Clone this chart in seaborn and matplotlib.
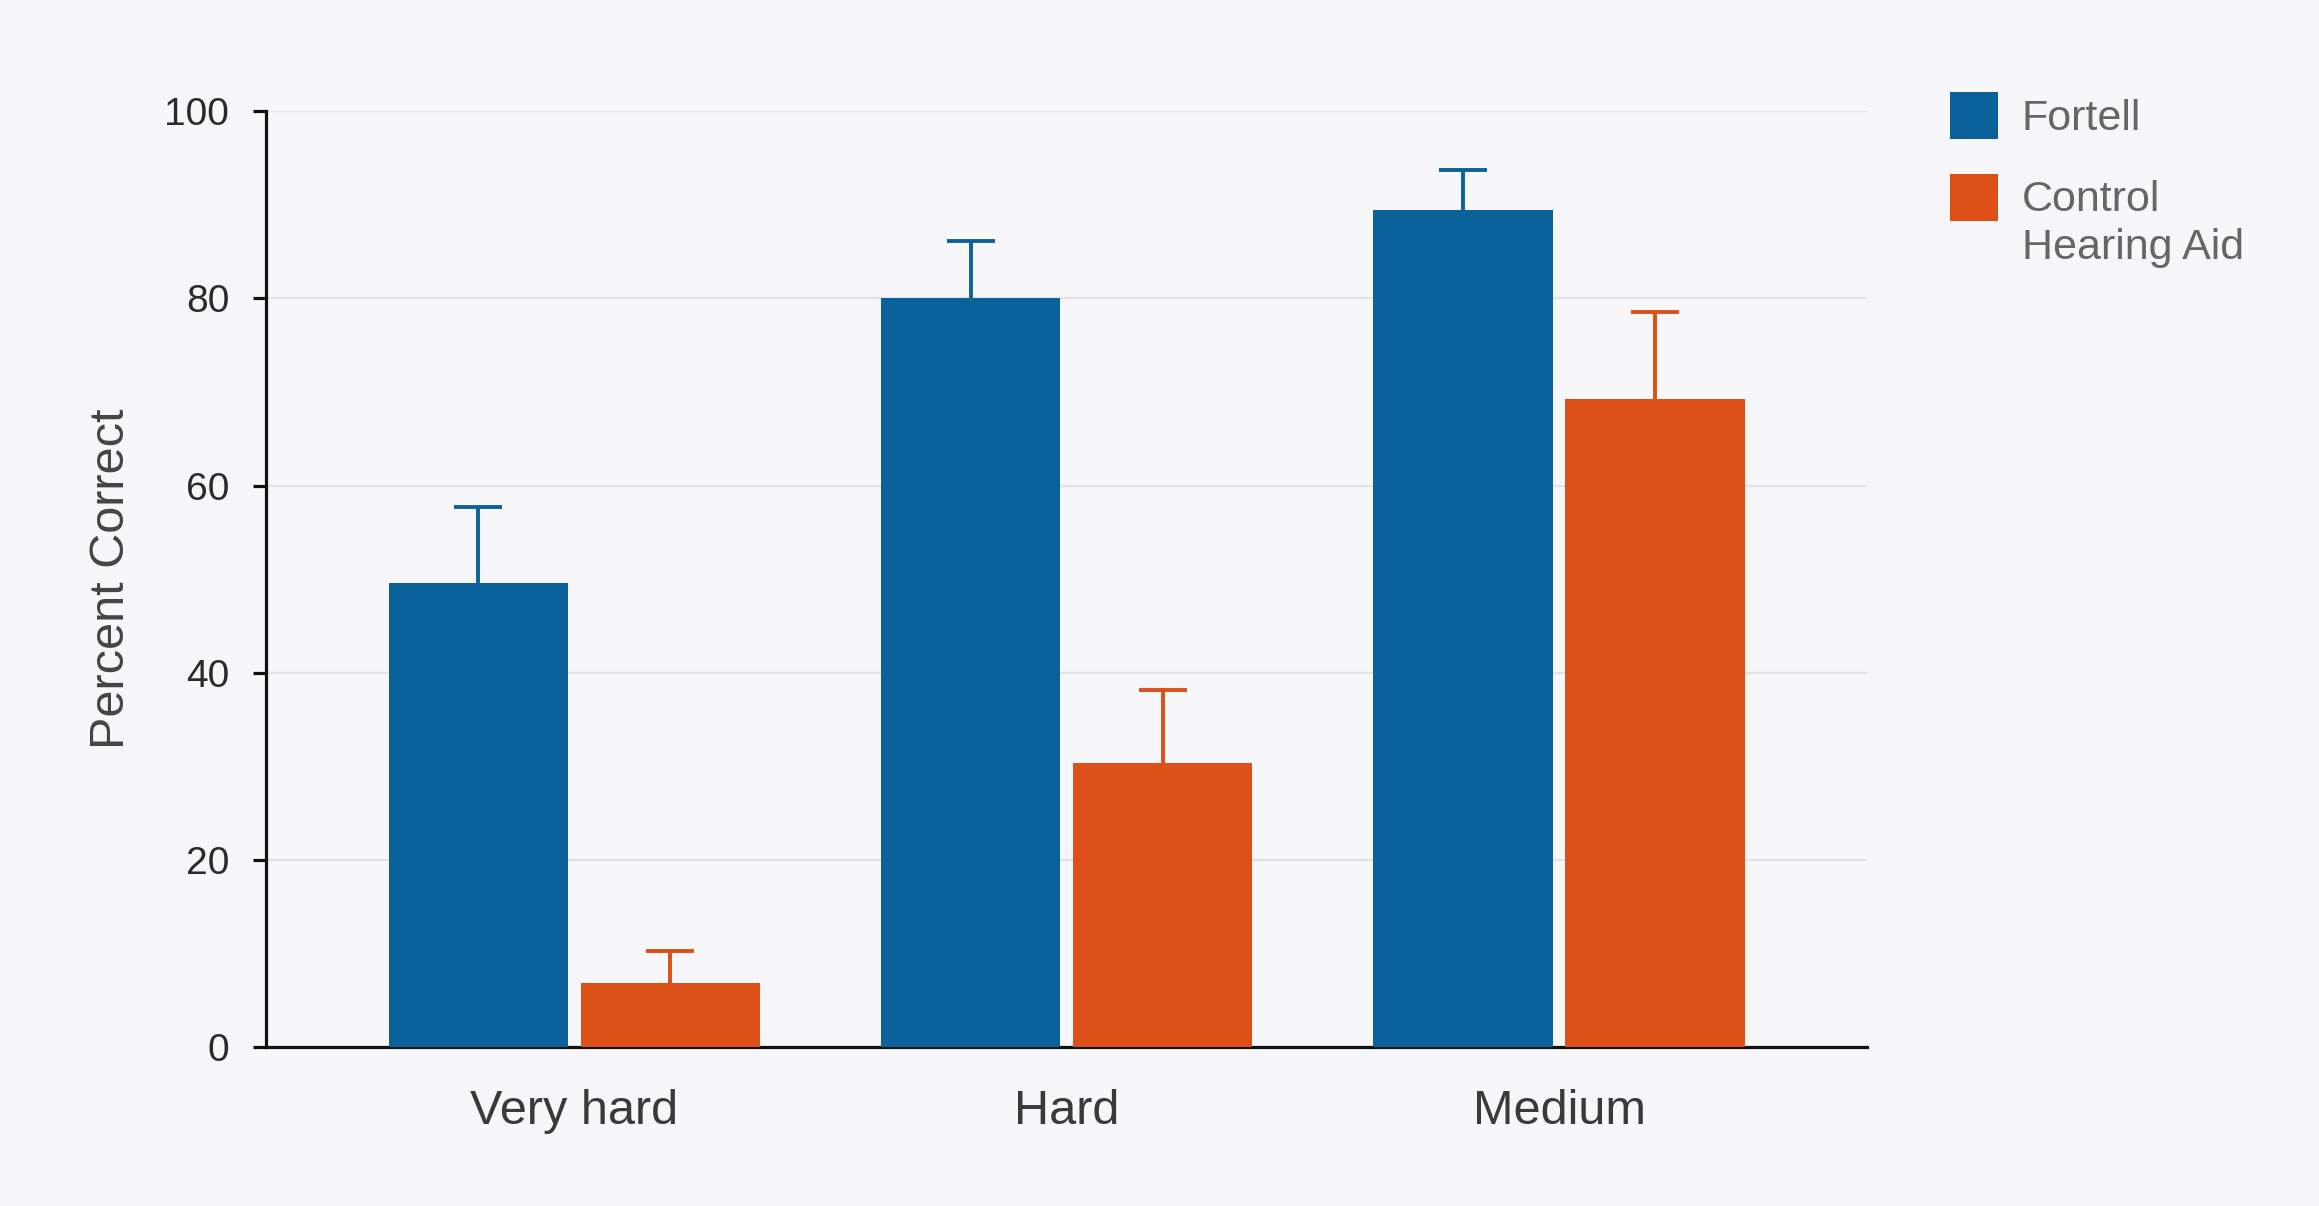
import numpy as np
import pandas as pd
import matplotlib
matplotlib.use("Agg")
import matplotlib.pyplot as plt
import seaborn as sns

categories = ["Very hard", "Hard", "Medium"]
groups = ["Fortell", "Control\nHearing Aid"]
fortell_mean = [49.6, 80.0, 89.4]
control_mean = [6.8, 30.3, 69.2]
fortell_upper = [57.7, 86.1, 93.7]
control_upper = [10.3, 38.1, 78.5]
yticks = [0, 20, 40, 60, 80, 100]

colors = ["#0B6199", "#DC5018"]
bg = "#F7F6F8"

sns.set_theme(style="white")
plt.rcParams["font.family"] = ["Liberation Sans", "DejaVu Sans"]

df = pd.DataFrame({
    "Difficulty": categories * 2,
    "Group": [groups[0]] * 3 + [groups[1]] * 3,
    "Percent Correct": fortell_mean + control_mean,
})

fig = plt.figure(figsize=(23.19, 12.06), dpi=100, facecolor=bg)
ax = fig.add_axes([0.1147, 0.1318, 0.6903, 0.776])
ax.set_facecolor(bg)

sns.barplot(data=df, x="Difficulty", y="Percent Correct", hue="Group",
            palette=colors, width=0.78, gap=0.067, errorbar=None,
            saturation=1, ax=ax, zorder=3, linewidth=0)

means = [fortell_mean, control_mean]
uppers = [fortell_upper, control_upper]
for cont, m, u, c in zip(ax.containers, means, uppers, colors):
    xs = [p.get_x() + p.get_width() / 2 for p in cont.patches]
    m = np.array(m)
    u = np.array(u)
    eb = ax.errorbar(xs, m, yerr=[np.zeros_like(m), u - m], fmt="none",
                     ecolor=c, elinewidth=2.8, capsize=17, capthick=2.8,
                     zorder=2)
    caps = eb[1]
    if len(caps) == 2:
        caps[0].set_visible(False)

ax.set_ylim(0, 100)
ax.set_xlim(-0.626, 2.625)
ax.set_yticks(yticks)
ax.set_yticklabels([str(t) for t in yticks])
ax.yaxis.grid(True, color="#E4E2E7", linewidth=1.6, zorder=0)
ax.set_axisbelow(True)

for s in ["top", "right"]:
    ax.spines[s].set_visible(False)
for s in ["left", "bottom"]:
    ax.spines[s].set_color("#111111")
    ax.spines[s].set_linewidth(2.3)

ax.tick_params(axis="y", which="both", left=True, length=9.5, width=2.3,
               color="#111111", labelsize=28, labelcolor="#2B2B2B", pad=17)
ax.tick_params(axis="x", bottom=False, length=0, labelsize=35,
               labelcolor="#3A3A3A", pad=30)

ax.set_xlabel("")
ax.set_ylabel("Percent Correct", fontsize=35, color="#444444", labelpad=22)

fs_leg = 31
ls_leg = 1.28
sns.move_legend(ax, loc="upper left", bbox_to_anchor=(0.824, 0.956),
                bbox_transform=fig.transFigure, frameon=False, title=None,
                fontsize=fs_leg, handlelength=1.12, handleheight=1.32,
                handletextpad=0.55, labelspacing=0.94)
leg = ax.get_legend()
for t in leg.get_texts():
    t.set_color("#666666")
    t.set_linespacing(ls_leg)
# align the second square with the first line of its two-line label
h2 = leg.legend_handles[1]
h2.set_y(h2.get_y() + 0.5 * ls_leg * fs_leg)

fig.savefig("out.png", dpi=100, facecolor=bg)
